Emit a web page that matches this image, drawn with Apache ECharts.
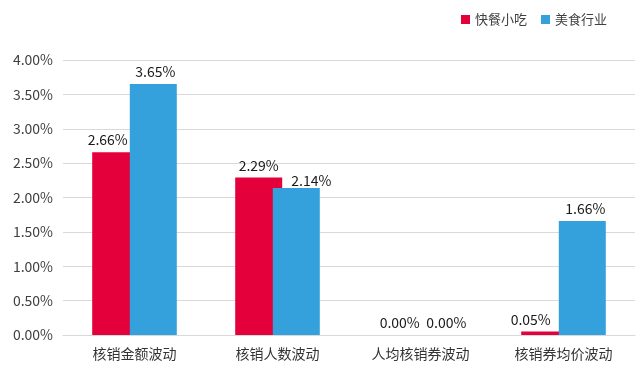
<!DOCTYPE html>
<html><head><meta charset="utf-8">
<script src="https://cdn.jsdelivr.net/npm/echarts@6/dist/echarts.min.js"></script>
<style>html,body{margin:0;padding:0;background:#fff}#c{width:640px;height:369px}</style>
</head><body><div id="c"></div>
<script>
const categories = ['核销金额波动','核销人数波动','人均核销券波动','核销券均价波动'];
const seriesNames = ['快餐小吃','美食行业'];
const fastFood = [2.66, 2.29, 0.00, 0.05];
const foodIndustry = [3.65, 2.14, 0.00, 1.66];
const colors = ['#E4003A', '#34A0DC'];
// label nudges (style only) to avoid overlaps, as in the reference
const fastFoodLabelShift = [[-8, 0], [0, 0], [-2, 0], [-14, 0]];
const foodIndustryLabelShift = [[2, 0], [15, 5], [7, 0], [3, 0]];
const font = '"Noto Sans CJK SC", "Noto Sans", sans-serif';
const chart = echarts.init(document.getElementById('c'));
const lbl = {show:true, position:'top', color:'#1a1a1a', fontSize:14, fontFamily:font, distance:5,
  formatter: p => p.value.toFixed(2) + '%'};
const withShift = (vals, shifts) => vals.map((v, i) => ({value: v, label: {offset: shifts[i]}}));
chart.setOption({
  animation:false,
  textStyle:{fontFamily:font},
  legend:{right:28, top:8, itemWidth:9, itemHeight:9, itemGap:14, icon:'rect',
    textStyle:{fontSize:13, color:'#404040', fontFamily:font}, data:seriesNames},
  grid:{left:63, right:5, top:60, bottom:34, containLabel:false},
  xAxis:{type:'category', data:categories,
    axisLine:{lineStyle:{color:'#d9d9d9'}}, axisTick:{show:false},
    axisLabel:{color:'#333', fontSize:14, margin:12, fontFamily:font}},
  yAxis:{type:'value', min:0, max:4, interval:0.5,
    axisLine:{show:false}, axisTick:{show:false},
    splitLine:{lineStyle:{color:'#d9d9d9'}},
    axisLabel:{color:'#404040', fontSize:14, margin:10, fontFamily:font, formatter: v => v.toFixed(2)+'%'}},
  series:[
    {name:seriesNames[0], type:'bar', data:withShift(fastFood, fastFoodLabelShift), itemStyle:{color:colors[0]}, barWidth:47, barGap:'-20%', label:lbl},
    {name:seriesNames[1], type:'bar', data:withShift(foodIndustry, foodIndustryLabelShift), itemStyle:{color:colors[1]}, barWidth:47, barGap:'-20%', label:lbl}
  ]
});
</script></body></html>
